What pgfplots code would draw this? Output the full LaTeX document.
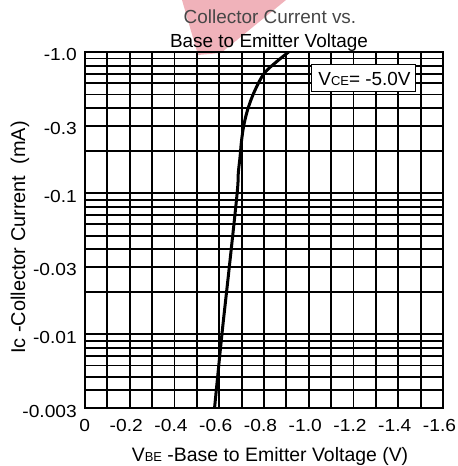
\documentclass[border=0pt]{standalone}
\usepackage{pgfplots}
\pgfplotsset{compat=1.18}
\usepackage{fontspec}
\setmainfont{Liberation Sans}
\newfontfamily\tickfont[FakeStretch=1.1]{Liberation Sans}
\definecolor{wmpink}{RGB}{240,178,186}
\definecolor{titlegray}{RGB}{70,70,70}
\begin{document}
\begin{tikzpicture}
\path[use as bounding box] (0,0) rectangle (458bp,466bp);
\fill[wmpink] (182bp,466bp) -- (286bp,466bp) -- (221bp,413bp) -- (198bp,411bp) -- cycle;
\begin{axis}[
  at={(85bp,58bp)}, anchor=south west,
  scale only axis, width=358bp, height=356bp,
  xmin=0, xmax=1.6, ymin=0.003, ymax=1, ymode=log,
  xtick={0,0.2,0.4,0.6,0.8,1.0,1.2,1.4,1.6},
  xticklabels={{\phantom{-}0},-0.2,-0.4,-0.6,-0.8,-1.0,-1.2,-1.4,-1.6},
  minor xtick={0.1,0.3,0.5,0.7,0.9,1.1,1.3,1.5},
  ytick={0.003,0.01,0.03,0.1,0.3,1},
  yticklabels={-0.003,-0.01,-0.03,-0.1,-0.3,-1.0},
  minor ytick={0.004,0.005,0.006,0.007,0.008,0.009,0.02,0.04,0.05,0.06,0.07,0.08,0.09,0.2,0.4,0.5,0.6,0.7,0.8,0.9},
  grid=both,
  major grid style={black, line width=1.9bp},
  minor grid style={black, line width=1.9bp},
  major tick length=0pt, minor tick length=0pt,
  axis line style={black, line width=2.3bp},
  /pgf/number format/assume math mode=true,
  tick label style={font=\tickfont\fontsize{17.5}{17.5}\selectfont},
  yticklabel style={anchor=east, inner sep=0pt, xshift=-8bp, yshift=-3bp},
  xticklabel style={anchor=north, inner sep=0pt, yshift=-11bp, xshift=-3.5bp},
]
\addplot[black, line width=3bp, smooth, tension=0.6] coordinates {
  (0.579,0.003) (0.612,0.01) (0.645,0.03) (0.680,0.1) (0.685,0.138)
  (0.693,0.181) (0.700,0.238) (0.7115,0.312) (0.731,0.409) (0.760,0.537)
  (0.801,0.706) (0.855,0.85) (0.910,1.0)
};
\end{axis}
\node[draw=black, line width=1bp, fill=white, minimum width=104bp, minimum height=27bp, inner sep=0pt]
  at (363bp,387.5bp) {\fontsize{19}{19}\selectfont\hspace{3bp}V{\fontsize{13}{13}\selectfont CE}= -5.0V};
\node[anchor=base, text=titlegray, inner sep=0pt] at (270bp,442bp) {\fontsize{19}{19}\selectfont Collector Current vs.};
\node[anchor=base, text=black, inner sep=0pt] at (269bp,418bp) {\fontsize{19}{19}\selectfont Base to Emitter Voltage};
\node[anchor=base, inner sep=0pt] at (270bp,5bp) {\fontsize{19.5}{19.5}\selectfont V{\fontsize{13}{13}\selectfont BE} -Base to Emitter Voltage (V)};
\node[anchor=base, rotate=90, inner sep=0pt] at (25bp,228.5bp) {\fontsize{20}{20}\selectfont Ic -Collector Current\ \ (mA)};
\end{tikzpicture}
\end{document}
